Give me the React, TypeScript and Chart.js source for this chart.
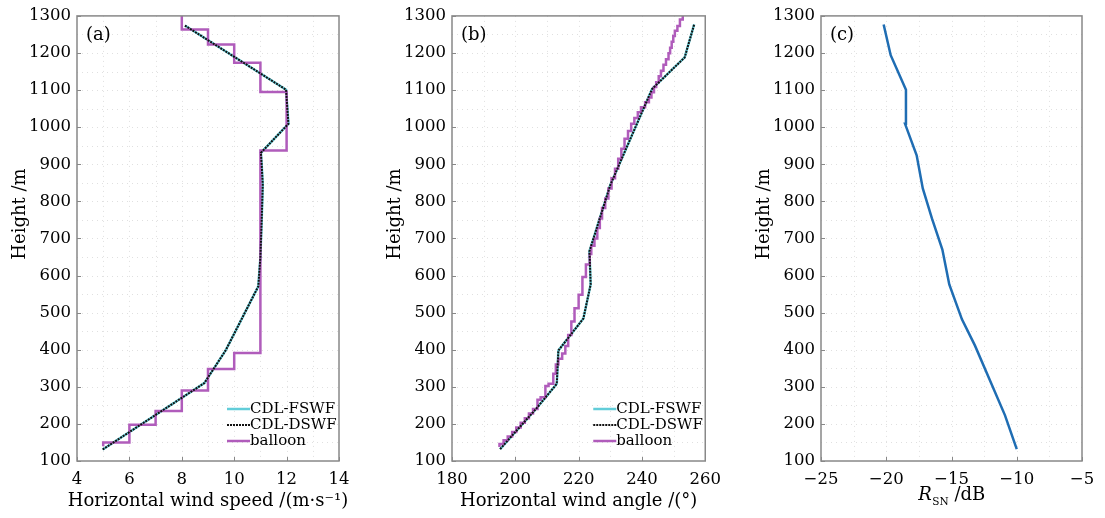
import React, { useEffect, useRef } from "react";
import { Chart, registerables } from "chart.js";

Chart.register(...registerables);

const SERIF = "'DejaVu Serif', 'Liberation Serif', serif";

// ---------------- Panel (a): horizontal wind speed ----------------
const aSpeedTicks = [4, 6, 8, 10, 12, 14];
const aFswfSpeed = [4.98, 8.86, 9.68, 10.92, 11.0, 11.05, 11.09, 11.05, 11.02, 12.07, 11.98, 8.12];
const aFswfHeight = [131, 310, 399, 571, 650, 750, 845, 898, 931, 1009, 1101, 1274];
const aDswfSpeed = [4.98, 8.86, 9.68, 10.92, 11.0, 11.05, 11.09, 11.05, 11.02, 12.07, 11.98, 8.12];
const aDswfHeight = [131, 310, 399, 571, 650, 750, 845, 898, 931, 1009, 1101, 1274];
// balloon: stepped profile, each point = (new speed, height where it changes)
const aBalloonSpeed = [5, 6, 7, 8, 9, 10, 11, 12, 11, 10, 9, 8, 8];
const aBalloonHeight = [140, 150, 198, 235, 290, 348, 391, 937, 1095, 1174, 1223, 1263, 1300];

// ---------------- Panel (b): horizontal wind angle ----------------
const bAngleTicks = [180, 200, 220, 240, 260];
const bFswfAngle = [195.2, 206.8, 213.1, 213.6, 221.5, 223.8, 223.5, 223.4, 230.0, 243.2, 253.5, 256.5];
const bFswfHeight = [132, 243, 308, 398, 484, 576, 650, 665, 844, 1103, 1188, 1277];
const bDswfAngle = [195.2, 206.8, 213.1, 213.6, 221.5, 223.8, 223.5, 223.4, 230.0, 243.2, 253.5, 256.5];
const bDswfHeight = [132, 243, 308, 398, 484, 576, 650, 665, 844, 1103, 1188, 1277];
const bBalloonAngle = [
  195.0, 196.3, 197.6, 199.0, 200.3, 201.7, 203.0, 204.3, 205.6, 207.0, 208.0, 209.5, 210.5, 212.0,
  212.8, 213.6, 214.8, 215.8, 216.7, 217.7, 218.7, 220.0, 221.2, 222.3, 223.5, 224.0, 225.0, 225.9,
  226.7, 227.4, 228.4, 229.4, 230.4, 231.5, 232.5, 233.5, 234.5, 235.6, 236.6, 237.6, 238.7, 239.7,
  241.0, 242.2, 243.0, 243.8, 244.5, 245.3, 246.0, 246.8, 247.6, 248.4, 248.9, 249.4, 249.9, 250.4,
  251.2, 252.0, 252.9, 252.9,
];
const bBalloonHeight = [
  138, 146, 156, 166, 178, 190, 203, 215, 228, 240, 265, 272, 302, 308,
  335, 360, 376, 390, 410, 440, 476, 512, 548, 596, 630, 658, 680, 700,
  728, 754, 782, 808, 835, 862, 888, 915, 942, 969, 990, 1009, 1025, 1040,
  1054, 1067, 1080, 1094, 1108, 1121, 1137, 1152, 1168, 1183, 1199, 1214, 1230, 1246,
  1260, 1273, 1290, 1300,
];

// ---------------- Panel (c): SNR ----------------
const cRsnTicks = [-25, -20, -15, -10, -5];
const cRsn = [-10.0, -10.9, -13.2, -14.2, -15.17, -15.7, -16.5, -17.2, -17.67, -18.56, -18.49, -19.66, -20.2];
const cHeight = [132, 223, 411, 482, 576, 670, 754, 835, 924, 1009, 1101, 1194, 1277];

const heightTicks = [100, 200, 300, 400, 500, 600, 700, 800, 900, 1000, 1100, 1200, 1300];

const legendLabels = ["CDL-FSWF", "CDL-DSWF", "balloon"];

const COLOR_FSWF = "#62cdd9";
const COLOR_DSWF = "#111111";
const COLOR_BALLOON = "#b05cbb";
const COLOR_RSN = "#1f6db3";

const pts = (xs: number[], ys: number[]) => xs.map((x, i) => ({ x, y: ys[i] }));

const decorPlugin = {
  id: "decor",
  beforeDatasetsDraw(chart: any, _a: any, o: any) {
    const { ctx, chartArea: ca } = chart;
    const xs = chart.scales.x;
    const ys = chart.scales.y;
    ctx.save();
    ctx.strokeStyle = "#e0e0e0";
    ctx.lineWidth = 1;
    ctx.setLineDash([1, 4]);
    const xt: number[] = o.xTicks;
    for (let i = 0; i < xt.length - 1; i++) {
      for (const v of [xt[i] + (xt[i + 1] - xt[i]) / 2, xt[i + 1]]) {
        if (v >= xt[xt.length - 1]) continue;
        const px = Math.round(xs.getPixelForValue(v)) + 0.5;
        ctx.beginPath();
        ctx.moveTo(px, ca.top);
        ctx.lineTo(px, ca.bottom);
        ctx.stroke();
      }
    }
    const yt: number[] = o.yTicks;
    for (let i = 0; i < yt.length - 1; i++) {
      for (const v of [yt[i] + (yt[i + 1] - yt[i]) / 2, yt[i + 1]]) {
        if (v >= yt[yt.length - 1]) continue;
        const py = Math.round(ys.getPixelForValue(v)) + 0.5;
        ctx.beginPath();
        ctx.moveTo(ca.left, py);
        ctx.lineTo(ca.right, py);
        ctx.stroke();
      }
    }
    ctx.restore();
  },
  afterDraw(chart: any, _a: any, o: any) {
    const { ctx, chartArea: ca } = chart;
    const xs = chart.scales.x;
    const ys = chart.scales.y;
    ctx.save();
    // frame
    ctx.strokeStyle = "#888888";
    ctx.lineWidth = 1.5;
    ctx.setLineDash([]);
    ctx.strokeRect(ca.left, ca.top, ca.right - ca.left, ca.bottom - ca.top);
    // inner tick marks
    ctx.lineWidth = 1;
    for (const v of o.xTicks as number[]) {
      const px = Math.round(xs.getPixelForValue(v)) + 0.5;
      ctx.beginPath();
      ctx.moveTo(px, ca.bottom);
      ctx.lineTo(px, ca.bottom - 4);
      ctx.stroke();
    }
    for (const v of o.yTicks as number[]) {
      const py = Math.round(ys.getPixelForValue(v)) + 0.5;
      ctx.beginPath();
      ctx.moveTo(ca.left, py);
      ctx.lineTo(ca.left + 4, py);
      ctx.stroke();
    }
    // panel label
    ctx.fillStyle = "#000";
    ctx.font = `18px ${SERIF}`;
    ctx.textAlign = "left";
    ctx.textBaseline = "middle";
    ctx.fillText(o.label, ca.left + 9, ca.top + 19);
    // legend
    if (o.legend) {
      const items = [
        { color: COLOR_FSWF, dash: [] as number[], w: 2.5 },
        { color: COLOR_DSWF, dash: [2, 1], w: 2 },
        { color: COLOR_BALLOON, dash: [] as number[], w: 2.5 },
      ];
      ctx.font = `15px ${SERIF}`;
      items.forEach((it, i) => {
        const y = ca.bottom - 52 + i * 16;
        const x0 = ca.right - 112;
        const x1 = ca.right - 89;
        ctx.strokeStyle = it.color;
        ctx.lineWidth = it.w;
        ctx.setLineDash(it.dash);
        ctx.beginPath();
        ctx.moveTo(x0, y);
        ctx.lineTo(x1, y);
        ctx.stroke();
        ctx.setLineDash([]);
        ctx.fillStyle = "#000";
        ctx.textAlign = "left";
        ctx.textBaseline = "middle";
        ctx.fillText(legendLabels[i], x1, y);
      });
    }
    // y title
    ctx.fillStyle = "#000";
    ctx.font = `18px ${SERIF}`;
    ctx.save();
    ctx.translate(ca.left - 57, 214);
    ctx.rotate(-Math.PI / 2);
    ctx.textAlign = "center";
    ctx.textBaseline = "middle";
    ctx.fillText("Height /m", 0, 0);
    ctx.restore();
    // x title
    const cx = (ca.left + ca.right) / 2;
    ctx.textBaseline = "alphabetic";
    if (o.rsnTitle) {
      ctx.font = `italic 18px ${SERIF}`;
      const wR = ctx.measureText("R").width;
      ctx.font = `10.5px ${SERIF}`;
      const wS = ctx.measureText("SN").width;
      ctx.font = `18px ${SERIF}`;
      const wD = ctx.measureText(" /dB").width;
      let x = cx - (wR + wS + wD) / 2;
      ctx.textAlign = "left";
      ctx.font = `italic 18px ${SERIF}`;
      ctx.fillText("R", x, 500);
      x += wR + 0.5;
      ctx.font = `10.5px ${SERIF}`;
      ctx.fillText("SN", x, 505);
      x += wS;
      ctx.font = `18px ${SERIF}`;
      ctx.fillText(" /dB", x, 500);
    } else {
      ctx.textAlign = "center";
      ctx.font = `18px ${SERIF}`;
      ctx.fillText(o.xTitle, cx, 506);
    }
    ctx.restore();
  },
};

type PanelProps = {
  left: number;
  width: number;
  yAxisWidth: number;
  rightPad: number;
  xTicks: number[];
  datasets: any[];
  label: string;
  legend: boolean;
  xTitle?: string;
  rsnTitle?: boolean;
  minus?: boolean;
};

function Panel(p: PanelProps) {
  const ref = useRef<HTMLCanvasElement | null>(null);
  useEffect(() => {
    if (!ref.current) return;
    const chart = new Chart(ref.current, {
      type: "scatter",
      data: { datasets: p.datasets },
      plugins: [decorPlugin as any],
      options: {
        animation: false,
        responsive: false,
        devicePixelRatio: 1,
        layout: { padding: { top: 13, right: p.rightPad, left: 0, bottom: 0 } },
        plugins: {
          legend: { display: false },
          tooltip: { enabled: false },
          decor: {
            xTicks: p.xTicks,
            yTicks: heightTicks,
            label: p.label,
            legend: p.legend,
            xTitle: p.xTitle,
            rsnTitle: !!p.rsnTitle,
          },
        } as any,
        scales: {
          x: {
            type: "linear",
            min: p.xTicks[0],
            max: p.xTicks[p.xTicks.length - 1],
            afterBuildTicks: (s: any) => {
              s.ticks = p.xTicks.map((v) => ({ value: v }));
            },
            afterFit: (s: any) => {
              s.height = 57;
            },
            grid: { display: false, drawTicks: false },
            border: { display: false },
            ticks: {
              autoSkip: false,
              maxRotation: 0,
              padding: 9,
              color: "#000",
              font: { family: SERIF, size: 16.5 },
              callback: (v: any) => (p.minus ? String(v).replace("-", "\u2212") : String(v)),
            },
          },
          y: {
            type: "linear",
            min: 100,
            max: 1300,
            afterBuildTicks: (s: any) => {
              s.ticks = heightTicks.map((v) => ({ value: v }));
            },
            afterFit: (s: any) => {
              s.width = p.yAxisWidth;
            },
            grid: { display: false, drawTicks: false },
            border: { display: false },
            ticks: {
              autoSkip: false,
              padding: 6,
              color: "#000",
              font: { family: SERIF, size: 16.5 },
              callback: (v: any) => String(v),
            },
          },
        },
        elements: { point: { radius: 0, hoverRadius: 0 } },
      } as any,
    });
    return () => chart.destroy();
  }, []);
  return (
    <canvas
      ref={ref}
      width={p.width}
      height={518}
      style={{ position: "absolute", left: p.left, top: 0, width: p.width, height: 518 }}
    />
  );
}

const line = (data: any[], color: string, width: number, order: number, extra: any = {}) => ({
  data,
  showLine: true,
  borderColor: color,
  backgroundColor: color,
  borderWidth: width,
  pointRadius: 0,
  fill: false,
  tension: 0,
  order,
  ...extra,
});

export default function App() {
  const aSets = [
    line(pts(aFswfSpeed, aFswfHeight), COLOR_FSWF, 2.5, 3),
    line(pts(aDswfSpeed, aDswfHeight), COLOR_DSWF, 2, 1, { borderDash: [2, 1] }),
    line(pts(aBalloonSpeed, aBalloonHeight), COLOR_BALLOON, 2.5, 2, { stepped: "after" }),
  ];
  const bSets = [
    line(pts(bFswfAngle, bFswfHeight), COLOR_FSWF, 2.5, 3),
    line(pts(bDswfAngle, bDswfHeight), COLOR_DSWF, 2, 1, { borderDash: [2, 1] }),
    line(pts(bBalloonAngle, bBalloonHeight), COLOR_BALLOON, 2.5, 2, { stepped: "after" }),
  ];
  const cSets = [line(pts(cRsn, cHeight), COLOR_RSN, 2.5, 1)];
  return (
    <div style={{ position: "absolute", left: 0, top: 0, width: 1105, height: 518, background: "#fff" }}>
      <Panel left={0} width={360} yAxisWidth={77} rightPad={21} xTicks={aSpeedTicks} datasets={aSets}
        label="(a)" legend={true} xTitle={"Horizontal wind speed /(m\u00b7s\u207b\u00b9)"} />
      <Panel left={370} width={360} yAxisWidth={82} rightPad={17} xTicks={bAngleTicks} datasets={bSets}
        label="(b)" legend={true} xTitle={"Horizontal wind angle /(\u00b0)"} />
      <Panel left={740} width={365} yAxisWidth={81} rightPad={23} xTicks={cRsnTicks} datasets={cSets}
        label="(c)" legend={false} rsnTitle={true} minus={true} />
    </div>
  );
}
